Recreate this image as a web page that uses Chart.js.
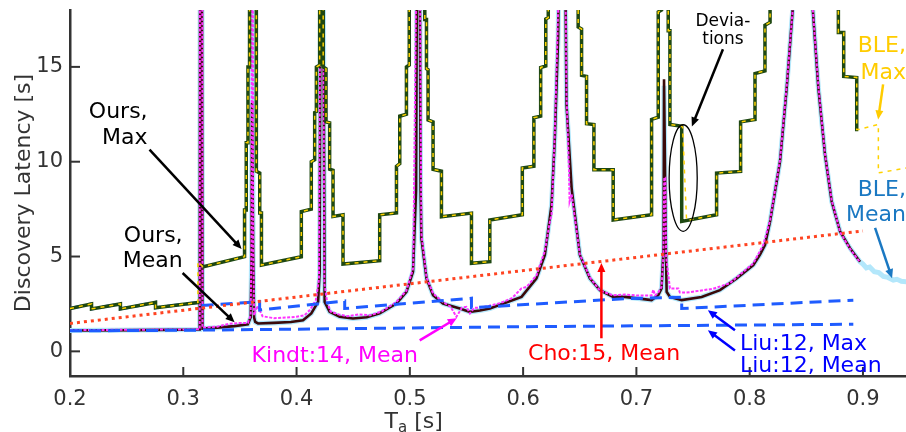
<!DOCTYPE html>
<html><head><meta charset="utf-8">
<script src="https://cdn.jsdelivr.net/npm/chart.js@4"></script>
<style>html,body{margin:0;padding:0;background:#fff;}canvas{display:block}</style>
</head><body>
<canvas id="c" width="906" height="432"></canvas>
<script>
// ---- tick values ----
const xTicks = [0.2, 0.3, 0.4, 0.5, 0.6, 0.7, 0.8, 0.9];
const yTicks = [0, 5, 10, 15];

// ---- series, [Ta, latency] (null = break in line) ----
const oursMax = [[0.2,2.26],[0.219,2.5],[0.219,2.24],[0.2445,2.5],[0.2445,2.24],[0.2755,2.58],[0.2755,2.3],[0.3129,2.58],[0.3145,2.58],null,[0.3168,4.45],
[0.3541,4.99],[0.3541,7.45],[0.3556,7.45],[0.3556,11.0],[0.3571,11.0],[0.3571,15.0],[0.3585,15.0],[0.3585,25],
[0.3645,25],[0.3645,9.5],[0.3675,9.4],[0.3675,7.3],[0.369,7.3],[0.369,4.55],
[0.4042,4.99],[0.4042,7.37],[0.413,7.5],[0.413,10.0],[0.416,10.1],[0.416,12.6],[0.4175,12.65],[0.4175,15.0],[0.4204,15.1],[0.4204,25],
[0.4235,25],[0.4235,15.0],[0.426,14.9],[0.426,12.1],[0.4292,12.05],[0.4292,9.6],[0.4322,9.55],[0.4322,7.11],[0.441,7.2],[0.441,4.6],
[0.4734,4.78],[0.4734,7.2],[0.4882,7.3],[0.4882,9.76],[0.4911,9.9],[0.4911,12.4],[0.497,12.5],[0.497,15.0],[0.4995,15.1],[0.4995,25],
[0.5132,25],[0.5132,17.5],[0.5147,17.5],[0.5147,14.9],[0.5161,14.85],[0.5161,12.2],[0.5205,12.1],[0.5205,9.6],[0.5279,9.5],[0.5279,7.1],[0.5544,7.29],[0.5544,4.64],
[0.5706,4.73],[0.5706,6.93],[0.5993,7.2],[0.5993,9.67],[0.6095,9.76],[0.6095,12.32],[0.6155,12.4],[0.6155,14.97],[0.62,15.05],[0.62,17.52],[0.6222,17.6],[0.6222,25],
[0.6486,25],[0.6486,17.1],[0.6516,17.0],[0.6516,14.55],[0.656,14.5],[0.656,12.0],[0.6625,11.96],[0.6625,9.58],[0.6795,9.58],[0.6795,6.93],
[0.7134,7.2],[0.7134,12.23],[0.7193,12.35],[0.7193,17.9],[0.7222,18.0],[0.7222,25],
[0.7281,25],[0.7281,16.9],[0.7296,16.9],[0.7296,11.96],[0.74,11.87],[0.74,6.85],
[0.7708,7.2],[0.7708,9.4],[0.792,9.49],[0.792,12.1],[0.8047,12.23],[0.8047,14.65],[0.8135,14.79],[0.8135,17.2],[0.818,17.35],[0.818,25],
[0.8783,25],[0.8783,16.82],[0.883,16.82],[0.883,14.5],[0.8945,14.44],[0.8945,11.7],[0.8959,11.7]];

const bleMax = [[0.2,2.26],[0.219,2.5],[0.219,2.24],[0.2445,2.5],[0.2445,2.24],[0.2755,2.58],[0.2755,2.3],[0.3129,2.58],[0.3129,4.73],[0.3173,4.46],
[0.3541,4.99],[0.3541,7.45],[0.3556,7.45],[0.3556,11.0],[0.3571,11.0],[0.3571,15.0],[0.3585,15.0],[0.3585,25],
[0.3645,25],[0.3645,9.5],[0.3675,9.4],[0.3675,7.3],[0.369,7.3],[0.369,4.55],
[0.4042,4.99],[0.4042,7.37],[0.413,7.5],[0.413,10.0],[0.416,10.1],[0.416,12.6],[0.4175,12.65],[0.4175,15.0],[0.4204,15.1],[0.4204,25],
[0.4235,25],[0.4235,15.0],[0.426,14.9],[0.426,12.1],[0.4292,12.05],[0.4292,9.6],[0.4322,9.55],[0.4322,7.11],[0.441,7.2],[0.441,4.6],
[0.4734,4.78],[0.4734,7.2],[0.4882,7.3],[0.4882,9.76],[0.4911,9.9],[0.4911,12.4],[0.497,12.5],[0.497,15.0],[0.4995,15.1],[0.4995,25],
[0.5132,25],[0.5132,17.5],[0.5147,17.5],[0.5147,14.9],[0.5161,14.85],[0.5161,12.2],[0.5205,12.1],[0.5205,9.6],[0.5279,9.5],[0.5279,7.1],[0.5544,7.29],[0.5544,4.64],
[0.5706,4.73],[0.5706,6.93],[0.5993,7.2],[0.5993,9.67],[0.6095,9.76],[0.6095,12.32],[0.6155,12.4],[0.6155,14.97],[0.62,15.05],[0.62,17.52],[0.6222,17.6],[0.6222,25],
[0.6486,25],[0.6486,17.1],[0.6516,17.0],[0.6516,14.55],[0.656,14.5],[0.656,12.0],[0.6625,11.96],[0.6625,9.58],[0.6795,9.58],[0.6795,6.93],
[0.7134,7.2],[0.7134,12.23],[0.7193,12.35],[0.7193,17.9],[0.7222,18.0],[0.7222,25],
[0.7281,25],[0.7281,16.9],[0.7296,16.9],[0.7296,11.96],[0.74,11.87],[0.7408,11.8],[0.7443,6.9],
[0.7708,7.2],[0.7708,9.4],[0.792,9.49],[0.792,12.1],[0.8047,12.23],[0.8047,14.65],[0.8135,14.79],[0.8135,17.2],[0.818,17.35],[0.818,25],
[0.8783,25],[0.8783,16.82],[0.883,16.82],[0.883,14.5],[0.8945,14.44],[0.8945,11.7],[0.8959,11.7],[0.9136,11.96],[0.9136,9.41],[0.9387,9.67]];

const oursMean = [[0.2,1.1],[0.26,1.12],[0.3145,1.15],[0.315,25],[0.3163,25],[0.317,1.2],[0.33,1.25],[0.345,1.33],[0.357,1.42],[0.3595,1.8],[0.3603,5],[0.3607,13.1],[0.3613,13.1],[0.3617,5],[0.3625,1.8],[0.3635,1.55],[0.366,1.47],[0.38,1.5],[0.395,1.55],[0.4057,1.64],[0.413,2.0],[0.419,2.61],[0.4204,4.2],[0.4213,25],[0.4233,25],[0.4248,2.61],[0.4292,2.08],[0.438,1.82],[0.4498,1.73],[0.462,1.8],[0.4734,2.0],[0.4882,2.52],[0.497,3.14],[0.5028,4.2],[0.5055,8.5],[0.5066,25],[0.5085,25],[0.5095,8.5],[0.5102,5.97],[0.5147,3.85],[0.5205,2.96],[0.5293,2.52],[0.5441,2.26],[0.5529,2.08],[0.5618,2.15],[0.5706,2.26],[0.5986,2.87],[0.6118,3.85],[0.6192,5.08],[0.6251,7.73],[0.628,11.26],[0.6309,16.55],[0.6325,25],[0.6365,25],[0.6383,13.02],[0.6428,8.61],[0.6501,5.08],[0.6589,3.85],[0.6678,3.23],[0.6795,2.87],[0.6898,2.87],[0.7134,2.7],[0.7193,2.96],[0.7222,3.32],[0.724,5.5],[0.7244,14.35],[0.7252,14.35],[0.726,5.5],[0.7267,3.14],[0.7296,2.87],[0.74,2.7],[0.7576,2.87],[0.7738,3.23],[0.7885,3.85],[0.8032,4.55],[0.8091,5.1],[0.8135,5.61],[0.818,6.85],[0.8268,10.02],[0.8327,13.9],[0.838,18.05],[0.841,25],[0.853,25],[0.8557,18.05],[0.8606,13.9],[0.8665,10.38],[0.8724,7.9],[0.8798,6.32],[0.8886,5.44],[0.8974,4.73]];

const bleMean = [[0.2,1.1],[0.26,1.12],[0.3145,1.15],[0.315,25],[0.3163,25],[0.317,1.2],[0.33,1.25],[0.345,1.33],[0.357,1.42],[0.3595,1.8],[0.3603,5],[0.3607,25],[0.3613,25],[0.3617,5],[0.3625,1.8],[0.3635,1.55],[0.366,1.47],[0.38,1.5],[0.395,1.55],[0.4057,1.64],[0.413,2.0],[0.419,2.61],[0.4204,4.2],[0.4213,25],[0.4233,25],[0.4248,2.61],[0.4292,2.08],[0.438,1.82],[0.4498,1.73],[0.462,1.8],[0.4734,2.0],[0.4882,2.52],[0.497,3.14],[0.5028,4.2],[0.5055,8.5],[0.5066,25],[0.5085,25],[0.5095,8.5],[0.5102,5.97],[0.5147,3.85],[0.5205,2.96],[0.5293,2.52],[0.5441,2.26],[0.5529,2.08],[0.5618,2.15],[0.5706,2.26],[0.5986,2.87],[0.6118,3.85],[0.6192,5.08],[0.6251,7.73],[0.628,11.26],[0.6309,16.55],[0.6325,25],[0.6365,25],[0.6383,13.02],[0.6428,8.61],[0.6501,5.08],[0.6589,3.85],[0.6678,3.23],[0.6795,2.87],[0.6898,2.87],[0.7134,2.7],[0.7193,2.96],[0.7222,3.32],[0.724,5.5],[0.7244,14.0],[0.7252,14.0],[0.726,5.5],[0.7267,3.14],[0.7296,2.87],[0.74,2.7],[0.7576,2.87],[0.7738,3.23],[0.7885,3.85],[0.8032,4.55],[0.8091,5.1],[0.8135,5.61],[0.818,6.85],[0.8268,10.02],[0.8327,13.9],[0.838,18.05],[0.841,25],[0.853,25],[0.8557,18.05],[0.8606,13.9],[0.8665,10.38],[0.8724,7.9],[0.8798,6.32],[0.8886,5.44],[0.8974,4.73],[0.9,4.6],[0.903,4.4],[0.906,4.45],[0.91,4.2],[0.914,4.15],[0.918,3.95],[0.922,3.9],[0.9268,3.76],[0.93,3.8],[0.934,3.7],[0.9387,3.67]];

const kindtMean = [[0.2,1.12],[0.3145,1.16],[0.3147,25],[0.3167,25],[0.317,1.25],[0.33,1.3],[0.34,1.45],[0.35,1.5],[0.357,1.5],[0.3595,1.9],[0.3603,6],[0.3607,25],[0.3613,25],[0.3617,6],[0.3625,1.9],[0.3655,2.4],[0.37,1.85],[0.38,1.75],[0.39,1.78],[0.4,1.82],[0.407,1.9],[0.412,2.2],[0.417,2.7],[0.4198,3.8],[0.4213,25],[0.4233,25],[0.4245,3.6],[0.427,2.6],[0.43,2.1],[0.437,1.95],[0.445,1.85],[0.455,1.95],[0.465,1.9],[0.475,2.1],[0.488,2.6],[0.497,3.2],[0.503,4.4],[0.5066,25],[0.5085,25],[0.5102,6.2],[0.5147,3.9],[0.5205,3.05],[0.5293,2.6],[0.536,2.35],[0.5411,1.82],[0.546,2.3],[0.55,2.35],[0.553,2.0],[0.557,2.3],[0.5618,2.3],[0.57,2.4],[0.58,2.55],[0.59,2.8],[0.5986,3.32],[0.603,3.4],[0.6118,4.0],[0.6192,5.3],[0.6236,6.85],[0.6251,7.2],[0.628,11.5],[0.6318,20],[0.6325,25],[0.6365,25],[0.6383,13.5],[0.6405,9.5],[0.641,7.9],[0.6428,8.3],[0.6501,5.1],[0.6589,3.9],[0.6678,3.2],[0.6795,2.95],[0.6898,3.0],[0.70,2.95],[0.7134,2.95],[0.715,3.25],[0.7165,2.95],[0.7193,3.1],[0.7222,3.4],[0.7238,5],[0.7246,9.16],[0.7255,9.16],[0.7262,5],[0.7296,3.32],[0.737,3.32],[0.7384,3.1],[0.7443,3.1],[0.7561,3.2],[0.7678,3.3],[0.7826,3.6],[0.7885,3.9],[0.8032,4.64],[0.812,5.61],[0.818,6.9],[0.8268,10.1],[0.8327,14],[0.838,18.05],[0.841,25],[0.853,25],[0.8557,18.05],[0.8606,14],[0.8665,10.4],[0.8724,7.95],[0.8798,6.3],[0.8886,5.4],[0.8974,4.7]];

const choMean = [[0.2,1.47],[0.9,6.35]];
const liuMax = [[0.2,2.26],[0.219,2.5],[0.219,2.24],[0.2445,2.5],[0.2445,2.24],[0.2755,2.58],[0.2755,2.3],[0.3129,2.58],[0.3129,2.4],[0.3674,2.62],[0.3674,2.18],[0.4425,2.66],[0.4425,2.26],[0.5544,2.8],[0.5544,2.3],[0.6898,2.78],[0.74,2.85],[0.74,2.26],[0.8915,2.7]];
const liuMean = [[0.2,1.08],[0.32,1.12],[0.45,1.2],[0.6,1.3],[0.8915,1.43]];

// ---- annotation texts (data coords) ----
const notes = [
  {text:['Ours,','Max'], x:0.2685, y:[12.33,10.91], align:'right', color:'#000000', size:22},
  {text:['Ours,','Mean'], x:0.2994, y:[5.79,4.46], align:'right', color:'#000000', size:22},
  {text:['Kindt:14, Mean'], x:0.3603, y:[-0.58], align:'left', color:'#ff00ff', size:22},
  {text:['Cho:15, Mean'], x:0.7386, y:[-0.48], align:'right', color:'#ff0000', size:22},
  {text:['Liu:12, Max','Liu:12, Mean'], x:0.7914, y:[0.05,-1.10], align:'left', color:'#0000ff', size:22},
  {text:['BLE,','Max'], x:0.938, y:[15.76,14.35], align:'right', color:'#ffcc00', size:22},
  {text:['BLE,','Mean'], x:0.938, y:[8.17,6.85], align:'right', color:'#1a78c2', size:22},
  {text:['Devia-','tions'], x:0.7764, y:[17.17,16.2], align:'center', color:'#000000', size:17}
];
const arrows = [
  {from:[0.2702,10.64], to:[0.3515,5.40], color:'#000000'},
  {from:[0.2994,4.13], to:[0.3453,1.535], color:'#000000'},
  {from:[0.5087,0.58], to:[0.5414,1.75], color:'#ff00ff'},
  {from:[0.6691,0.69], to:[0.6691,4.66], color:'#ff0000'},
  {from:[0.7870,1.11], to:[0.7631,2.17], color:'#0000ff'},
  {from:[0.7870,0.05], to:[0.7631,1.11], color:'#0000ff'},
  {from:[0.9178,14.08], to:[0.9134,12.23], color:'#ffcc00'},
  {from:[0.9107,6.51], to:[0.9257,3.86], color:'#1a78c2'},
  {from:[0.7764,15.93], to:[0.749,11.86], color:'#000000'}
];
const ellipse = {x:0.7413, y:9.14, rx:0.0124, ry:2.81};

const pts = a => a.map(p => p ? {x: p[0], y: p[1]} : {x: 0.315, y: null});
const FONT = 'DejaVu Sans';
Chart.defaults.font.family = FONT;

function ds(label, data, color, width, dash, order){
  return {label, data: pts(data), borderColor: color, backgroundColor: color, borderWidth: width,
    borderDash: dash || [], pointRadius: 0, showLine: true, tension: 0, fill: false, order, clip: 0,
    spanGaps: false, borderCapStyle: 'butt', borderJoinStyle: 'miter'};
}

const overlay = {
  id: 'overlay',
  afterDraw(chart){
    const {ctx, chartArea: ca, scales: {x: xs, y: ys}} = chart;
    const X = v => xs.getPixelForValue(v), Y = v => ys.getPixelForValue(v);
    ctx.save();
    // inward ticks
    ctx.strokeStyle = '#333333'; ctx.lineWidth = 2;
    yTicks.forEach(v => { const p = Y(v); ctx.beginPath(); ctx.moveTo(ca.left, p); ctx.lineTo(ca.left + 10, p); ctx.stroke(); });
    xTicks.forEach(v => { const p = X(v); ctx.beginPath(); ctx.moveTo(p, ca.bottom); ctx.lineTo(p, ca.bottom - 9); ctx.stroke(); });
    // y title
    ctx.save();
    ctx.translate(30, (ca.top + ca.bottom) / 2);
    ctx.rotate(-Math.PI / 2);
    ctx.font = '22px "' + FONT + '"'; ctx.fillStyle = '#333333';
    ctx.textAlign = 'center'; ctx.textBaseline = 'alphabetic';
    ctx.fillText('Discovery Latency [s]', 0, 0);
    ctx.restore();
    // x title  T_a [s]
    ctx.fillStyle = '#333333'; ctx.textBaseline = 'alphabetic'; ctx.textAlign = 'left';
    const big = '22px "' + FONT + '"', small = '15px "' + FONT + '"';
    ctx.font = big; const wT = ctx.measureText('T').width, wS = ctx.measureText(' [s]').width;
    ctx.font = small; const wa = ctx.measureText('a').width;
    let x0 = X(0.5034) - (wT + wa + wS) / 2, yb = ca.bottom + 52;
    ctx.font = big; ctx.fillText('T', x0, yb);
    ctx.font = small; ctx.fillText('a', x0 + wT, yb + 4);
    ctx.font = big; ctx.fillText(' [s]', x0 + wT + wa, yb);
    // annotation texts
    notes.forEach(n => {
      ctx.font = n.size + 'px "' + FONT + '"'; ctx.fillStyle = n.color; ctx.textAlign = n.align;
      n.text.forEach((t, i) => ctx.fillText(t, X(n.x), Y(n.y[i])));
    });
    // arrows
    arrows.forEach(a => {
      const x1 = X(a.from[0]), y1 = Y(a.from[1]), x2 = X(a.to[0]), y2 = Y(a.to[1]);
      const ang = Math.atan2(y2 - y1, x2 - x1), L = 9, H = 4;
      ctx.strokeStyle = a.color; ctx.fillStyle = a.color; ctx.lineWidth = 2.5;
      ctx.beginPath(); ctx.moveTo(x1, y1); ctx.lineTo(x2 - 5 * Math.cos(ang), y2 - 5 * Math.sin(ang)); ctx.stroke();
      ctx.beginPath(); ctx.moveTo(x2, y2);
      ctx.lineTo(x2 - L * Math.cos(ang) + H * Math.sin(ang), y2 - L * Math.sin(ang) - H * Math.cos(ang));
      ctx.lineTo(x2 - L * Math.cos(ang) - H * Math.sin(ang), y2 - L * Math.sin(ang) + H * Math.cos(ang));
      ctx.closePath(); ctx.fill();
    });
    // ellipse
    const cx = X(ellipse.x), cy = Y(ellipse.y);
    const rx = X(ellipse.x + ellipse.rx) - cx, ry = cy - Y(ellipse.y + ellipse.ry);
    ctx.strokeStyle = '#000000'; ctx.lineWidth = 1.3;
    ctx.beginPath(); ctx.ellipse(cx, cy, rx, ry, 0, 0, Math.PI * 2); ctx.stroke();
    ctx.restore();
  }
};

new Chart(document.getElementById('c'), {
  type: 'scatter',
  data: {
    datasets: [
      ds('BLE, Mean', bleMean, '#b3e7fb', 5, null, 9),
      ds('Ours, Mean', oursMean, '#3a0a0a', 2.6, null, 8),
      ds('Kindt:14, Mean', kindtMean, '#ff33ff', 2, [3, 1.5], 7),
      ds('Liu:12, Mean', liuMean, '#1f5cff', 3, [12, 7], 6),
      ds('Liu:12, Max', liuMax, '#1f5cff', 3, [12, 7], 5),
      ds('Cho:15, Mean', choMean, '#ff4422', 3, [3, 4], 4),
      ds('Ours, Max', oursMax, '#1e4812', 3.5, null, 3),
      ds('BLE, Max', bleMax, '#ffd200', 1.5, [4, 5], 2)
    ]
  },
  options: {
    responsive: false, animation: false, devicePixelRatio: 1,
    layout: {padding: {top: 10, right: 0, bottom: 0, left: 0}},
    plugins: {legend: {display: false}, tooltip: {enabled: false}},
    scales: {
      x: {type: 'linear', position: 'bottom', min: 0.2, max: 0.938,
        afterBuildTicks: s => { s.ticks = xTicks.map(v => ({value: v})); },
        afterFit: s => { s.height = 56; s.paddingLeft = 0; s.paddingRight = 0; },
        grid: {display: false, drawTicks: false},
        border: {display: true, color: '#333333', width: 2.5},
        ticks: {color: '#333333', font: {size: 21}, padding: 11, maxRotation: 0, autoSkip: false,
          callback: v => Number(v).toFixed(1)}},
      y: {type: 'linear', min: -1.3, max: 18,
        afterBuildTicks: s => { s.ticks = yTicks.map(v => ({value: v})); },
        afterFit: s => { s.width = 70; s.paddingTop = 0; s.paddingBottom = 0; },
        grid: {display: false, drawTicks: false},
        border: {display: true, color: '#333333', width: 2.5},
        ticks: {color: '#333333', font: {size: 21}, padding: 7, autoSkip: false,
          callback: v => String(v)}}
    }
  },
  plugins: [overlay]
});
</script>
</body></html>
